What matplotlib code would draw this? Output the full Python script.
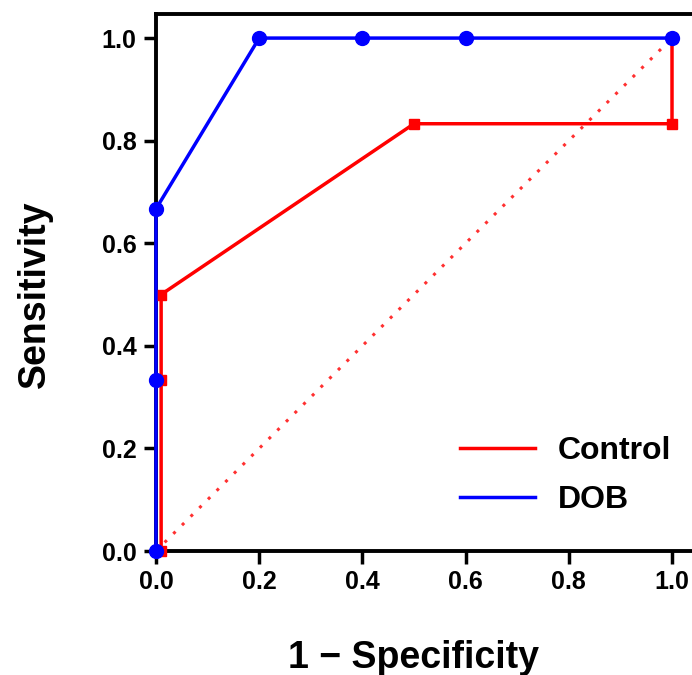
import matplotlib
matplotlib.use("Agg")
import matplotlib.pyplot as plt

# ROC data
ctrl_x = [0.01, 0.01, 0.01, 0.5, 1.0, 1.0]
ctrl_y = [0.0, 0.333, 0.5, 0.833, 0.833, 1.0]
dob_x = [0.0, 0.0, 0.0, 0.2, 0.4, 0.6, 1.0]
dob_y = [0.0, 0.333, 0.667, 1.0, 1.0, 1.0, 1.0]
ref_x = [0.0, 1.0]
ref_y = [0.0, 1.0]
ticks = [0.0, 0.2, 0.4, 0.6, 0.8, 1.0]

plt.rcParams['font.family'] = ['Liberation Sans', 'DejaVu Sans']
plt.rcParams['font.weight'] = 'bold'

fig = plt.figure(figsize=(6.92, 6.75), dpi=100)
ax = fig.add_axes([0.2254, 0.1837, 0.783, 0.7956])

ax.plot(ref_x, ref_y, color='#ff3030', linestyle=(0, (1, 3)), linewidth=2.2)
ax.plot(ctrl_x, ctrl_y, color='#ff0000', linewidth=2.5, marker='s', markersize=7,
        label='Control', clip_on=False, zorder=3)
ax.plot(dob_x, dob_y, color='#0000ff', linewidth=2.5, marker='o', markersize=10,
        label='DOB', clip_on=False, zorder=4)

ax.set_xlim(0, 1.05)
ax.set_ylim(0, 1.047)
ax.set_xticks(ticks)
ax.set_yticks(ticks)
ax.set_xticklabels([f'{t:.1f}' for t in ticks])
ax.set_yticklabels([f'{t:.1f}' for t in ticks])
ax.tick_params(axis='both', direction='out', length=9, width=2.5, labelsize=18, pad=5)

for s in ax.spines.values():
    s.set_linewidth(2.8)

ax.set_xlabel('1 \u2212 Specificity', fontsize=27, fontweight='bold')
ax.set_ylabel('Sensitivity', fontsize=27, fontweight='bold')
ax.xaxis.set_label_coords(0.5 / 1.05, -0.165)
ax.yaxis.set_label_coords(-0.19, 0.5 / 1.047)

leg = ax.legend(loc='upper left', frameon=False, fontsize=23, handlelength=2.35,
                bbox_to_anchor=(0.561, 0.214), borderpad=0, borderaxespad=0,
                labelspacing=0.6, handletextpad=0.72)
for line in leg.get_lines():
    line.set_marker('')

fig.savefig('out.png', dpi=100)
